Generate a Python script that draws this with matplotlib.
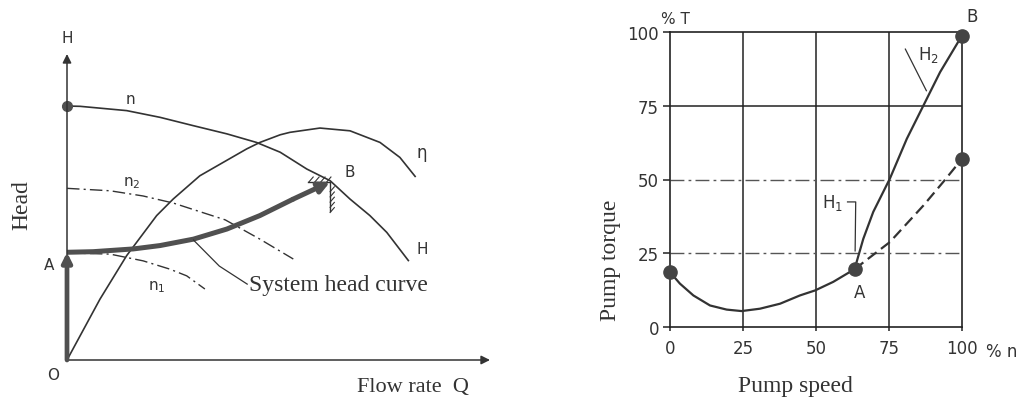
import matplotlib
matplotlib.use("Agg")
import matplotlib.pyplot as plt

# ---------------- data: left panel (schematic, Q and H in % of axis length) ----------------
Q_n = [0, 3.1, 14.1, 22.0, 29.8, 37.8, 44.8, 50.4, 56.7, 62.2, 66.9, 71.6, 75.6, 80.7]
H_n = [83.0, 82.9, 81.5, 79.3, 76.6, 73.9, 71.1, 67.9, 62.4, 58.6, 52.6, 47.2, 41.7, 32.5]

Q_eta = [0, 7.8, 14.1, 21.2, 25.1, 31.4, 42.5, 45.6, 50.4, 52.7, 59.8, 66.9, 74.0, 78.7, 82.3]
H_eta = [0, 19.9, 34.1, 47.2, 52.6, 60.2, 69.0, 71.1, 73.6, 74.4, 75.8, 74.9, 71.1, 66.2, 60.0]

Q_n2 = [0, 10.2, 18.0, 25.1, 37.4, 45.6, 53.5]
H_n2 = [56.1, 55.3, 53.6, 51.3, 45.8, 39.5, 33.0]

Q_n1 = [0, 10.2, 18.0, 24.3, 28.3, 32.6]
H_n1 = [35.0, 34.6, 32.4, 29.7, 27.5, 23.2]

Q_sys = [0, 6.2, 15.7, 22.0, 29.9, 37.8, 45.6, 53.5, 62.2]
H_sys = [35.2, 35.4, 36.3, 37.4, 39.5, 42.8, 47.2, 52.6, 58.2]

# ---------------- data: right panel ----------------
speed_base = [0, 3.4, 8.0, 13.7, 19.4, 24.5, 30.8, 37.7, 44.5, 49.7, 55.9, 63.2]
torque_base = [18.6, 14.7, 10.7, 7.3, 5.9, 5.4, 6.2, 7.9, 10.7, 12.4, 15.3, 19.6]

speed_H2 = [63.2, 66.2, 69.6, 75.3, 81.1, 86.8, 92.5, 100]
torque_H2 = [19.6, 29.9, 39.0, 50.3, 63.8, 75.1, 86.4, 98.8]

speed_H1 = [63.2, 75.3, 86.8, 93.6, 100]
torque_H1 = [19.6, 28.8, 41.2, 49.2, 57.0]

pts_speed = [0, 63.2, 100, 100]
pts_torque = [18.6, 19.6, 98.8, 57.0]

ticks = [0, 25, 50, 75, 100]
tick_labels = ['0', '25', '50', '75', '100']

thin = '#333333'
thick = '#505050'
SERIF = 'Liberation Serif'
SANS = 'DejaVu Sans'

fig = plt.figure(figsize=(10.24, 4.02), dpi=100)
fig.patch.set_facecolor('white')

# ================= LEFT PANEL =================
axL = fig.add_axes([67/1024, 41/402, 423/1024, 306/402])
axL.set_xlim(0, 100)
axL.set_ylim(0, 100)
axL.axis('off')

axL.annotate('', xy=(0, 100), xytext=(0, 0),
             arrowprops=dict(arrowstyle='-|>', lw=1.1, color=thin, mutation_scale=13,
                             shrinkA=0, shrinkB=0), annotation_clip=False)
axL.annotate('', xy=(100, 0), xytext=(0, 0),
             arrowprops=dict(arrowstyle='-|>', lw=1.1, color=thin, mutation_scale=13,
                             shrinkA=0, shrinkB=0), annotation_clip=False)

dashdot = (0, (9, 3, 1.5, 3))
axL.plot(Q_n, H_n, color=thin, lw=1.2, clip_on=False)
axL.plot(Q_eta, H_eta, color=thin, lw=1.2, clip_on=False)
axL.plot(Q_n2, H_n2, color=thin, lw=1.0, ls=dashdot, clip_on=False)
axL.plot(Q_n1, H_n1, color=thin, lw=1.0, ls=dashdot, clip_on=False)
axL.plot([Q_n[0]], [H_n[0]], 'o', color=thick, ms=7, clip_on=False)

# system head curve (thick, arrow to B)
axL.plot(Q_sys[:-1], H_sys[:-1], color=thick, lw=3.6, solid_capstyle='butt',
         solid_joinstyle='round', clip_on=False)
axL.annotate('', xy=(Q_sys[-1], H_sys[-1]), xytext=(Q_sys[-2], H_sys[-2]),
             arrowprops=dict(arrowstyle='-|>', lw=3.6, color=thick, mutation_scale=16,
                             shrinkA=0, shrinkB=0))
axL.annotate('', xy=(0, H_sys[0]), xytext=(0, 0),
             arrowprops=dict(arrowstyle='-|>', lw=3.4, color=thick, mutation_scale=14,
                             shrinkA=0, shrinkB=0), annotation_clip=False)

# hatched stop at B
bq, bh = Q_sys[-1], H_sys[-1]
axL.plot([bq - 5.2, bq], [bh, bh], color=thin, lw=1.0)
axL.plot([bq, bq], [bh, bh - 9.4], color=thin, lw=1.0)
for k in range(4):
    x0 = bq - 5.0 + k * 1.4
    axL.plot([x0, x0 + 1.0], [bh, bh + 1.6], color=thin, lw=0.8)
for k in range(5):
    y0 = bh - 1.6 - k * 1.7
    axL.plot([bq, bq + 1.0], [y0 - 1.6, y0], color=thin, lw=0.8)

# leader for "System head curve"
axL.plot([29.9, 36.0, 42.6], [39.2, 30.7, 24.8], color=thin, lw=0.9)

axL.text(0, 105.5, 'H', fontsize=11, family=SANS, color=thin, ha='center', va='center')
axL.text(14.9, 85.3, 'n', fontsize=11, family=SANS, color=thin, ha='center', va='center')
axL.text(15.2, 58.2, 'n$_2$', fontsize=11, family=SANS, color=thin, ha='center', va='center')
axL.text(21.3, 24.0, 'n$_1$', fontsize=11, family=SANS, color=thin, ha='center', va='center')
axL.text(83.9, 68.0, 'η', fontsize=12, family=SANS, color=thin, ha='center', va='center')
axL.text(66.9, 61.6, 'B', fontsize=11, family=SANS, color=thin, ha='center', va='center')
axL.text(84.0, 36.3, 'H', fontsize=11, family=SANS, color=thin, ha='center', va='center')
axL.text(-4.2, 31.2, 'A', fontsize=11, family=SANS, color=thin, ha='center', va='center')
axL.text(-3.3, -4.6, 'O', fontsize=11, family=SANS, color=thin, ha='center', va='center')
axL.text(43.0, 24.6, 'System head curve', fontsize=17, family=SERIF, color=thin,
         ha='left', va='center')
axL.text(68.5, -8.6, 'Flow rate  Q', fontsize=16, family=SERIF, color=thin,
         ha='left', va='center')
axL.text(-10.6, 51.0, 'Head', fontsize=17, family=SERIF, color=thin,
         ha='center', va='center', rotation=90)

# ================= RIGHT PANEL =================
axR = fig.add_axes([670/1024, 74/402, 292/1024, 295/402])
axR.set_xlim(0, 100)
axR.set_ylim(0, 100)
for s in axR.spines.values():
    s.set_color('#222222')
    s.set_linewidth(1.2)
for v in ticks[1:-1]:
    axR.axvline(v, color='#222222', lw=1.1)
axR.axhline(75, color='#222222', lw=1.1)
axR.axhline(50, color='#555555', lw=1.0, ls=(0, (10, 3, 2, 3)))
axR.axhline(25, color='#555555', lw=1.0, ls=(0, (10, 3, 2, 3)))

axR.set_xticks(ticks)
axR.set_xticklabels(tick_labels)
axR.set_yticks(ticks)
axR.set_yticklabels(tick_labels)
axR.tick_params(axis='both', colors='#222222', labelcolor='#333333', labelsize=12,
                width=1.1)
axR.tick_params(axis='x', length=3, pad=6)
axR.tick_params(axis='y', length=5, pad=3)
for lab in axR.get_xticklabels() + axR.get_yticklabels():
    lab.set_family(SANS)

axR.plot(speed_base, torque_base, color=thin, lw=1.6, clip_on=False)
axR.plot(speed_H2, torque_H2, color=thin, lw=1.6, clip_on=False)
axR.plot(speed_H1, torque_H1, color=thin, lw=1.6, ls=(0, (5, 2.5)), clip_on=False)
axR.plot(pts_speed, pts_torque, 'o', color='#444444', ms=9.5, clip_on=False, zorder=5)

axR.text(2.0, 104.5, '% T', fontsize=11, family=SANS, color=thin, ha='center', va='center')
axR.text(113.5, -8.3, '% n', fontsize=12, family=SANS, color=thin, ha='center', va='center')
axR.text(103.4, 105.5, 'B', fontsize=12, family=SANS, color=thin, ha='center', va='center')
axR.text(88.5, 92.5, 'H$_2$', fontsize=12, family=SANS, color=thin, ha='center', va='center')
axR.plot([80.6, 87.8], [94.2, 80.1], color=thin, lw=0.9, clip_on=False)
axR.text(55.8, 42.4, 'H$_1$', fontsize=12, family=SANS, color=thin, ha='center', va='center')
axR.plot([60.8, 63.6, 63.4], [42.4, 42.4, 25.8], color=thin, lw=0.9, clip_on=False)
axR.text(65.0, 11.9, 'A', fontsize=12, family=SANS, color=thin, ha='center', va='center')

axR.text(-20.5, 23, 'Pump torque', fontsize=17, family=SERIF, color=thin,
         ha='center', va='center', rotation=90)
axR.text(42.8, -20.0, 'Pump speed', fontsize=17, family=SERIF, color=thin,
         ha='center', va='center')

fig.savefig('out.png', dpi=100, facecolor='white')
